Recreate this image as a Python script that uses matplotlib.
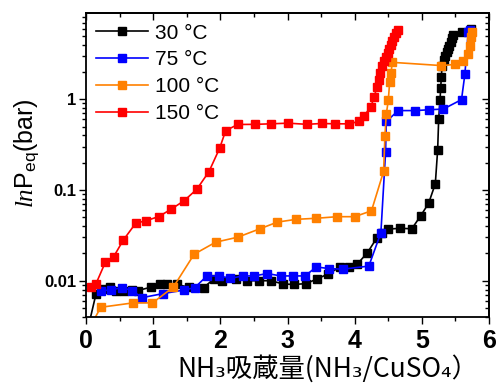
import matplotlib
matplotlib.use("Agg")
import matplotlib.pyplot as plt
from matplotlib.ticker import LogLocator, MultipleLocator, FixedLocator, FixedFormatter, NullFormatter

plt.rcParams['mathtext.fontset'] = 'custom'
plt.rcParams['mathtext.rm'] = 'Liberation Sans'
plt.rcParams['mathtext.it'] = 'Liberation Serif:italic'

# NH3 uptake (mol NH3 / mol CuSO4) vs equilibrium pressure (bar)
x_30 = [0.03, 0.15, 0.25, 0.36, 0.45, 0.56, 0.68, 0.77, 0.97, 1.10, 1.21, 1.35, 1.53, 1.75,
        1.90, 2.02, 2.23, 2.40, 2.57, 2.75, 2.94, 3.10, 3.28, 3.44, 3.61, 3.78, 3.92, 4.04,
        4.19, 4.33, 4.40, 4.49, 4.68, 4.85, 4.98, 5.10, 5.20, 5.235, 5.25, 5.27, 5.28, 5.29,
        5.30, 5.33, 5.35, 5.37, 5.39, 5.41, 5.43, 5.45, 5.47, 5.59, 5.73]
p_30 = [0.003, 0.0072, 0.0081, 0.0085, 0.0078, 0.0078, 0.0079, 0.0078, 0.0085, 0.0093,
        0.0093, 0.0091, 0.0085, 0.0084, 0.0104, 0.0099, 0.0104, 0.0100, 0.0100, 0.0100,
        0.0092, 0.0091, 0.0093, 0.0105, 0.0119, 0.0142, 0.0140, 0.0153, 0.0204, 0.0297,
        0.0338, 0.0371, 0.0378, 0.0374, 0.0516, 0.0713, 0.117, 0.277, 0.60, 0.97, 1.33,
        1.74, 2.34, 2.73, 2.97, 3.29, 3.59, 3.90, 4.32, 4.74, 5.16, 5.46, 5.95]

x_75 = [0.23, 0.37, 0.53, 0.69, 0.83, 1.14, 1.46, 1.62, 1.80, 1.98, 2.15, 2.33, 2.50,
        2.70, 2.90, 3.08, 3.26, 3.43, 3.62, 3.82, 4.21, 4.39, 4.46, 4.47, 4.65, 4.90,
        5.10, 5.32, 5.59, 5.64, 5.69, 5.71]
p_75 = [0.0078, 0.0079, 0.0084, 0.0078, 0.0065, 0.0072, 0.0079, 0.0084, 0.0113, 0.0113,
        0.0106, 0.0113, 0.0113, 0.0120, 0.0113, 0.0113, 0.0113, 0.0142, 0.0136, 0.0134,
        0.0145, 0.0338, 0.265, 0.57, 0.75, 0.75, 0.765, 0.78, 0.99, 1.88, 5.47, 5.85]

x_100 = [0.10, 0.22, 0.70, 0.99, 1.30, 1.61, 1.93, 2.26, 2.59, 2.85, 3.13, 3.43, 3.74,
         4.00, 4.25, 4.43, 4.45, 4.47, 4.50, 4.52, 4.54, 4.56, 5.29, 5.50, 5.61, 5.68,
         5.71, 5.73, 5.74]
p_100 = [0.0035, 0.0051, 0.0057, 0.0057, 0.0085, 0.0196, 0.0266, 0.0302, 0.0374, 0.0443,
         0.0475, 0.0488, 0.0508, 0.0508, 0.059, 0.16, 0.395, 0.68, 0.97, 1.53, 1.93, 2.55,
         2.35, 2.42, 2.62, 3.12, 3.9, 4.85, 5.5]

x_150 = [0.07, 0.15, 0.29, 0.41, 0.555, 0.74, 0.90, 1.085, 1.26, 1.46, 1.65, 1.83, 1.99,
         2.08, 2.26, 2.52, 2.75, 3.01, 3.29, 3.51, 3.70, 3.91, 4.07, 4.14, 4.24, 4.29,
         4.33, 4.36, 4.38, 4.41, 4.44, 4.47, 4.49, 4.51, 4.54, 4.56, 4.59, 4.61, 4.64]
p_150 = [0.0085, 0.0093, 0.0161, 0.0183, 0.028, 0.043, 0.046, 0.051, 0.061, 0.076, 0.102,
         0.159, 0.289, 0.452, 0.527, 0.529, 0.536, 0.545, 0.529, 0.541, 0.536, 0.536, 0.57,
         0.66, 0.82, 1.06, 1.36, 1.61, 1.95, 2.30, 2.62, 2.90, 3.24, 3.59, 4.0, 4.43, 4.87,
         5.39, 5.86]

series = [
    (x_30, p_30, 'black', '30 °C'),
    (x_75, p_75, '#0000ff', '75 °C'),
    (x_100, p_100, '#ff8000', '100 °C'),
    (x_150, p_150, '#ff0000', '150 °C'),
]

fig = plt.figure(figsize=(4.97, 3.85), dpi=100)
ax = fig.add_axes([0.173, 0.177, 0.811, 0.789])

for xs, ps, c, lab in series:
    ax.plot(xs, ps, color=c, lw=1.2, marker='s', ms=5.2, mec=c, mfc=c, label=lab)

ax.set_yscale('log')
ax.set_xlim(0, 6)
ax.set_ylim(0.004, 8.9)

tick_font = ['Liberation Sans Narrow', 'Liberation Sans']
ax.xaxis.set_major_locator(MultipleLocator(1))
ax.xaxis.set_minor_locator(MultipleLocator(0.5))
ax.yaxis.set_major_locator(FixedLocator([0.01, 0.1, 1]))
ax.yaxis.set_major_formatter(FixedFormatter(['0.01', '0.1', '1']))
ax.yaxis.set_minor_locator(LogLocator(base=10, subs=range(2, 10)))
ax.yaxis.set_minor_formatter(NullFormatter())

# left/bottom ticks point outwards
ax.tick_params(axis='x', which='major', length=5, width=1.0, direction='out', pad=4)
ax.tick_params(axis='x', which='minor', length=3, width=1.0, direction='out')
ax.tick_params(axis='y', which='major', length=5, width=1.0, direction='out', pad=2)
ax.tick_params(axis='y', which='minor', length=3, width=1.0, direction='out')

# top/right ticks point inwards, without labels
top = ax.secondary_xaxis('top')
top.xaxis.set_major_locator(MultipleLocator(1))
top.xaxis.set_minor_locator(MultipleLocator(0.5))
top.tick_params(which='major', direction='in', length=5, width=1.0, labeltop=False)
top.tick_params(which='minor', direction='in', length=3, width=1.0)
right = ax.secondary_yaxis('right')
right.yaxis.set_major_locator(FixedLocator([0.01, 0.1, 1]))
right.yaxis.set_minor_locator(LogLocator(base=10, subs=range(2, 10)))
right.yaxis.set_minor_formatter(NullFormatter())
right.tick_params(which='major', direction='in', length=5, width=1.0, labelright=False)
right.tick_params(which='minor', direction='in', length=3, width=1.0)
for sec in (top, right):
    for s in sec.spines.values():
        s.set_linewidth(1.3)

for lab in ax.get_xticklabels():
    lab.set_family(tick_font)
    lab.set_fontweight('bold')
    lab.set_fontsize(18)
for lab in ax.get_yticklabels():
    lab.set_family(tick_font)
    lab.set_fontweight('bold')
    lab.set_fontsize(12)

for s in ax.spines.values():
    s.set_linewidth(1.3)

ax.set_xlabel('NH₃吸蔵量(NH₃/CuSO₄）', fontsize=19,
              family=['Noto Sans CJK JP', 'DejaVu Sans'])
ax.xaxis.set_label_coords(0.6, -0.125)
ax.set_ylabel(r'$\mathit{ln}\mathrm{P}_{\mathrm{eq}}\mathrm{(bar)}$', fontsize=18)
ax.yaxis.set_label_coords(-0.11, 0.54)

ax.legend(loc='upper left', frameon=False, handlelength=2.5,
          handletextpad=0.3, labelspacing=0.38, borderaxespad=0.1,
          prop={'family': 'Liberation Sans', 'size': 15})

fig.savefig('out.png', dpi=100)
